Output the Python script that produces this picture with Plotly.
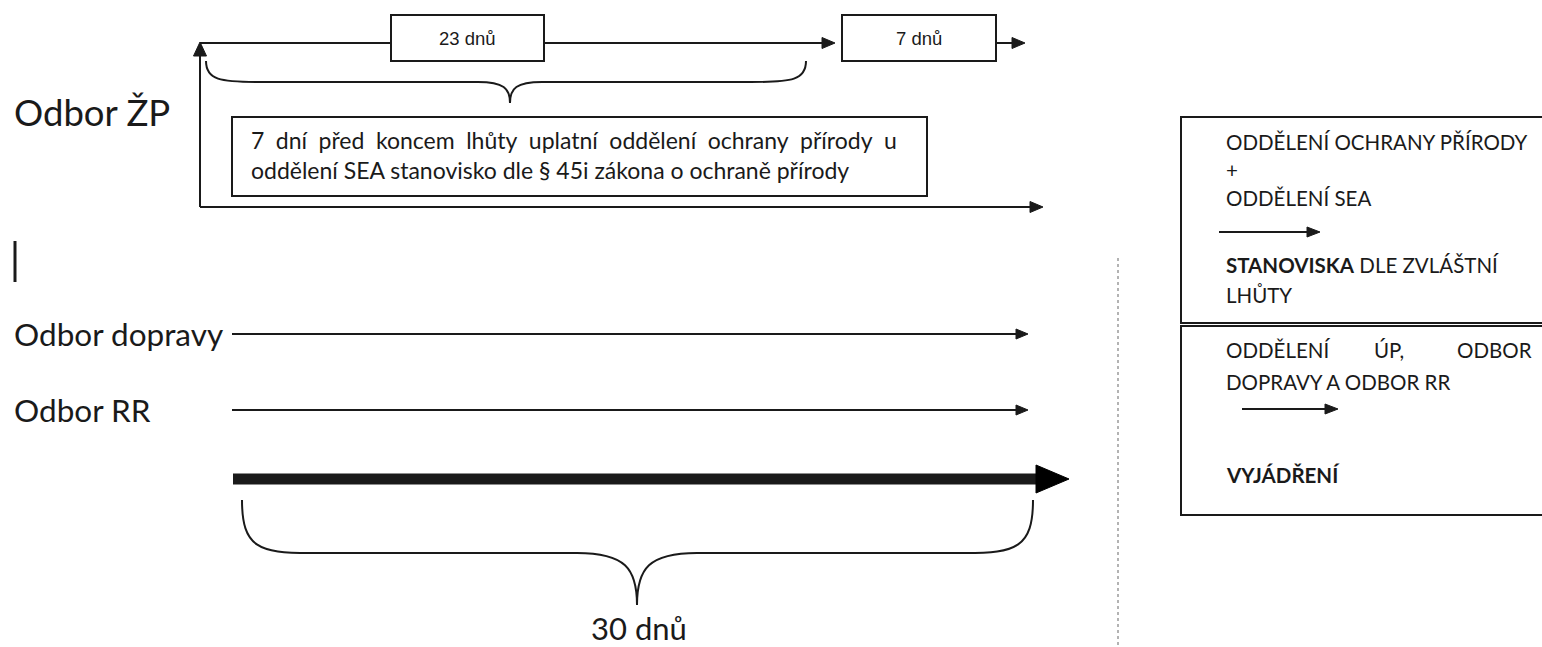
import plotly.graph_objects as go

# ---------------- data ----------------
departments = ["Odbor ŽP", "Odbor dopravy", "Odbor RR"]
phase_labels = ["23 dnů", "7 dnů"]
total_label = "30 dnů"
note_lines = ["7 dní před koncem lhůty uplatní oddělení ochrany přírody u",
              "oddělení SEA stanovisko dle § 45i zákona o ochraně přírody"]
legend_top = ["ODDĚLENÍ OCHRANY PŘÍRODY", "+", "ODDĚLENÍ SEA"]
legend_top_result = ["<b>STANOVISKA</b> DLE ZVLÁŠTNÍ", "LHŮTY"]
legend_bottom_words = ["ODDĚLENÍ", "ÚP,", "ODBOR"]
legend_bottom_line2 = "DOPRAVY A ODBOR RR"
legend_bottom_result = "<b>VYJÁDŘENÍ</b>"

# ---------------- layout helpers ----------------
W, H = 1542, 647
INK = "#1a1a1a"
FONT = "Lato"
shapes = []
ann = []


def line(x0, y0, x1, y1, w=2, color=INK, dash=None):
    d = dict(type="line", x0=x0, y0=y0, x1=x1, y1=y1, xref="x", yref="y",
             line=dict(color=color, width=w))
    if dash:
        d["line"]["dash"] = dash
    shapes.append(d)


def tri_right(xt, y, L=12, h=10):
    shapes.append(dict(type="path", xref="x", yref="y",
                       path=f"M {xt},{y} L {xt-L},{y-h/2} L {xt-L},{y+h/2} Z",
                       fillcolor=INK, line=dict(color=INK, width=1)))


def tri_up(x, yt, L=13, w=12):
    shapes.append(dict(type="path", xref="x", yref="y",
                       path=f"M {x},{yt} L {x-w/2},{yt+L} L {x+w/2},{yt+L} Z",
                       fillcolor=INK, line=dict(color=INK, width=1)))


def arrow_right(x0, x1, y, w=2, L=12, h=10):
    line(x0, y, x1 - L + 1, y, w)
    tri_right(x1, y, L, h)


def rect(x0, y0, x1, y1, w=2):
    shapes.append(dict(type="rect", x0=x0, y0=y0, x1=x1, y1=y1, xref="x", yref="y",
                       line=dict(color=INK, width=w), fillcolor="rgba(0,0,0,0)"))


def text(x, y, s, size, anchor="left", family=FONT, color=INK):
    ann.append(dict(x=x, y=y, xref="x", yref="y", text=s, showarrow=False,
                    xanchor=anchor, yanchor="middle",
                    font=dict(family=family, size=size, color=color)))


def brace(xl, xr, ytop, ymid, ytip, xtip, r=60, t=45):
    p = (f"M {xl},{ytop} C {xl},{ymid-(ymid-ytop)*0.1} {xl+r*0.25},{ymid} {xl+r},{ymid} "
         f"L {xtip-t},{ymid} C {xtip-t*0.2},{ymid} {xtip},{ymid+(ytip-ymid)*0.3} {xtip},{ytip} "
         f"C {xtip},{ymid+(ytip-ymid)*0.3} {xtip+t*0.2},{ymid} {xtip+t},{ymid} "
         f"L {xr-r},{ymid} C {xr-r*0.25},{ymid} {xr},{ymid-(ymid-ytop)*0.1} {xr},{ytop}")
    shapes.append(dict(type="path", xref="x", yref="y", path=p,
                       line=dict(color=INK, width=2)))


# ---------------- Odbor ŽP block ----------------
text(12, 112, departments[0], 36.5)
# top timeline
line(200, 43, 391, 43)
rect(391, 15, 544, 61)
text((391 + 544) / 2, 38, phase_labels[0], 18.5, anchor="center",
     family="Liberation Sans Narrow, Liberation Sans, Arial")
arrow_right(544, 835, 43, L=13, h=11)
rect(842, 15, 996, 61)
text((842 + 996) / 2, 38, phase_labels[1], 18.5, anchor="center",
     family="Liberation Sans Narrow, Liberation Sans, Arial")
arrow_right(996, 1025, 43, L=13, h=11)
# vertical return line
line(200, 207, 200, 55)
tri_up(200, 42, L=14, w=13)
# bottom line
arrow_right(200, 1043, 207, L=13, h=11)
# small brace
brace(206, 806, 61, 82, 103, 510, r=55, t=32)
# note box
rect(232, 117, 927, 196)
# first line is justified in the original: widen inter-word gaps
text(249, 140, note_lines[0].replace(" ", "\u2002"), 23)
text(249, 170, note_lines[1], 23)

# cursor mark
line(15, 241, 15, 282, w=3)

# ---------------- other departments ----------------
text(12, 334, departments[1], 31.5)
arrow_right(232, 1028, 334)
text(12, 410, departments[2], 31.5)
arrow_right(232, 1028, 410)

# thick total arrow
line(233, 479, 1040, 479, w=11)
shapes.append(dict(type="path", xref="x", yref="y",
                   path="M 1069,479 L 1036,465 L 1036,493 Z",
                   fillcolor="#000", line=dict(color="#000", width=1)))
brace(242, 1033, 500, 553, 605, 637, r=68, t=60)
text(639, 628, total_label, 31, anchor="center")

# dotted divider
line(1118, 258, 1118, 647, w=1.5, color="#9a9a9a", dash="dot")

# ---------------- right legend ----------------
rect(1181, 117, 1600, 323)
rect(1181, 326, 1600, 515)
LS = 20.5
ys_top = [142, 170, 198]
for s, y in zip(legend_top, ys_top):
    text(1224, y, s, LS)
arrow_right(1219, 1320, 232, w=2, L=13, h=10)
text(1224, 265, legend_top_result[0], LS)
text(1224, 295, legend_top_result[1], LS)

xs_words = [1224, 1372, 1455]
for s, x in zip(legend_bottom_words, xs_words):
    text(x, 350, s, LS)
text(1224, 382, legend_bottom_line2, LS)
arrow_right(1242, 1338, 409, w=2, L=13, h=10)
text(1224, 475, legend_bottom_result, LS)

fig = go.Figure()
fig.update_layout(
    width=W, height=H, margin=dict(l=0, r=0, t=0, b=0),
    paper_bgcolor="white", plot_bgcolor="white",
    xaxis=dict(range=[0, W], visible=False, fixedrange=True),
    yaxis=dict(range=[H, 0], visible=False, fixedrange=True),
    shapes=shapes, annotations=ann, showlegend=False,
)
fig.write_html("out.html", config=dict(displayModeBar=False),
               post_script="document.body.style.margin='0';document.body.style.overflow='hidden';")
